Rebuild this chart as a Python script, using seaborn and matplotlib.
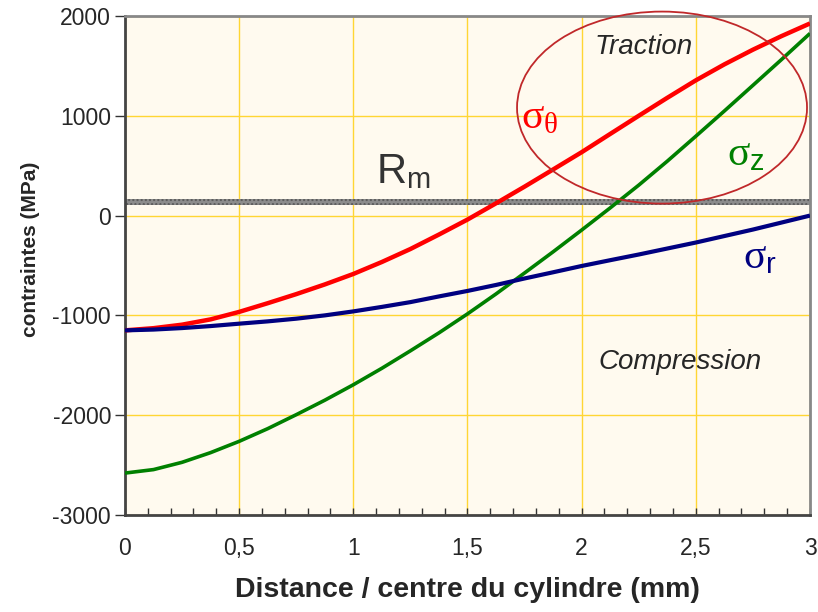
import matplotlib
matplotlib.use("Agg")
import matplotlib.pyplot as plt
from matplotlib.patches import Ellipse
from matplotlib.ticker import MultipleLocator, FuncFormatter
import seaborn as sns
import pandas as pd

# Radial position (mm) and stress components (MPa)
distance = [0, 0.125, 0.25, 0.375, 0.5, 0.625, 0.75, 0.875, 1.0, 1.125, 1.25,
            1.375, 1.5, 1.625, 1.75, 1.875, 2.0, 2.125, 2.25, 2.375, 2.5,
            2.625, 2.75, 2.875, 3.0]
sigma_theta = [-1150, -1128, -1093, -1040, -965, -878, -787, -690, -585, -465,
               -335, -190, -40, 123, 290, 462, 635, 818, 1000, 1180, 1355,
               1515, 1662, 1798, 1925]
sigma_z = [-2580, -2545, -2472, -2375, -2262, -2135, -1995, -1850, -1695, -1530,
           -1355, -1175, -985, -785, -575, -363, -145, 77, 305, 545, 795,
           1048, 1305, 1563, 1825]
sigma_r = [-1150, -1142, -1127, -1107, -1083, -1060, -1033, -1000, -960, -915,
           -867, -810, -755, -695, -630, -568, -505, -447, -390, -330, -270,
           -205, -140, -70, 0]

rm_low, rm_high = 110, 170

sns.set_theme(style="white")
plt.rcParams["font.family"] = ["Liberation Sans", "DejaVu Sans"]
plt.rcParams["axes.unicode_minus"] = False
plt.rcParams["mathtext.fontset"] = "custom"
plt.rcParams["mathtext.rm"] = "Liberation Serif"
plt.rcParams["mathtext.it"] = "Liberation Serif:italic"
plt.rcParams["mathtext.sf"] = "Liberation Sans"

n = len(distance)
df = pd.DataFrame({
    "d": distance * 3,
    "s": sigma_theta + sigma_z + sigma_r,
    "comp": ["theta"] * n + ["z"] * n + ["r"] * n,
})
palette = {"theta": "#ff0000", "z": "#008000", "r": "#000080"}

fig = plt.figure(figsize=(8.18, 6.12), dpi=100)
ax = fig.add_axes([0.1528, 0.1585, 0.8374, 0.8154])
ax.set_facecolor("#fffaef")

ax.grid(True, color="#ffd633", linewidth=1.0)
ax.set_axisbelow(True)

# Rm band
ax.axhspan(rm_low, rm_high, facecolor="#8c8c8c", edgecolor="#5a5a5a",
           hatch="....", linewidth=0, zorder=2)

sns.lineplot(data=df, x="d", y="s", hue="comp", palette=palette, ax=ax,
             legend=False, zorder=3, linewidth=3)
for line, lw in zip(ax.lines, [3.2, 2.6, 3.0]):
    line.set_linewidth(lw)
    line.set_solid_capstyle("butt")
    line.set_solid_joinstyle("round")

ell = Ellipse((2.352, 1082), 1.27, 1924, fill=False, edgecolor="#c0282a",
              linewidth=1.3, zorder=4, clip_on=False)
ax.add_patch(ell)

ax.set_xlim(0, 3)
ax.set_ylim(-3000, 2000)
ax.xaxis.set_major_locator(MultipleLocator(0.5))
ax.xaxis.set_minor_locator(MultipleLocator(0.1))
ax.yaxis.set_major_locator(MultipleLocator(1000))
ax.xaxis.set_major_formatter(FuncFormatter(lambda v, p: f"{v:g}".replace(".", ",")))

ax.tick_params(axis="x", which="both", direction="in", length=5, width=1,
               color="#333333", bottom=True, pad=16, labelsize=16.5)
ax.tick_params(axis="y", which="major", direction="out", length=7, width=1,
               color="#333333", left=True, pad=3, labelsize=16.5)

for side in ["left", "bottom"]:
    ax.spines[side].set_color("#444444")
    ax.spines[side].set_linewidth(2)
for side in ["top", "right"]:
    ax.spines[side].set_color("#888888")
    ax.spines[side].set_linewidth(2)

ax.set_xlabel("Distance / centre du cylindre (mm)", fontsize=20.5,
              fontweight="bold", labelpad=12)
ax.set_ylabel("contraintes (MPa)", fontsize=15, fontweight="bold")
ax.yaxis.set_label_coords(-0.124, 0.533)

ax.text(2.27, 1694, "Traction", fontsize=20, style="italic", ha="center",
        va="center", zorder=5)
ax.text(2.43, -1463, "Compression", fontsize=20, style="italic", ha="center",
        va="center", zorder=5)
ax.text(1.1, 430, r"R$_{\mathsf{m}}$", fontsize=30, color="#333333",
        ha="left", va="center", zorder=5)
ax.text(1.815, 980, r"$\mathrm{\sigma_\theta}$", fontsize=30, color="#ff0000",
        ha="center", va="center", zorder=5)
ax.text(2.72, 610, r"$\mathrm{\sigma}_{\mathsf{z}}$", fontsize=30, color="#008000",
        ha="center", va="center", zorder=5)
ax.text(2.78, -420, r"$\mathrm{\sigma}_{\mathsf{r}}$", fontsize=30, color="#000080",
        ha="center", va="center", zorder=5)

fig.savefig("out.png", dpi=100)
